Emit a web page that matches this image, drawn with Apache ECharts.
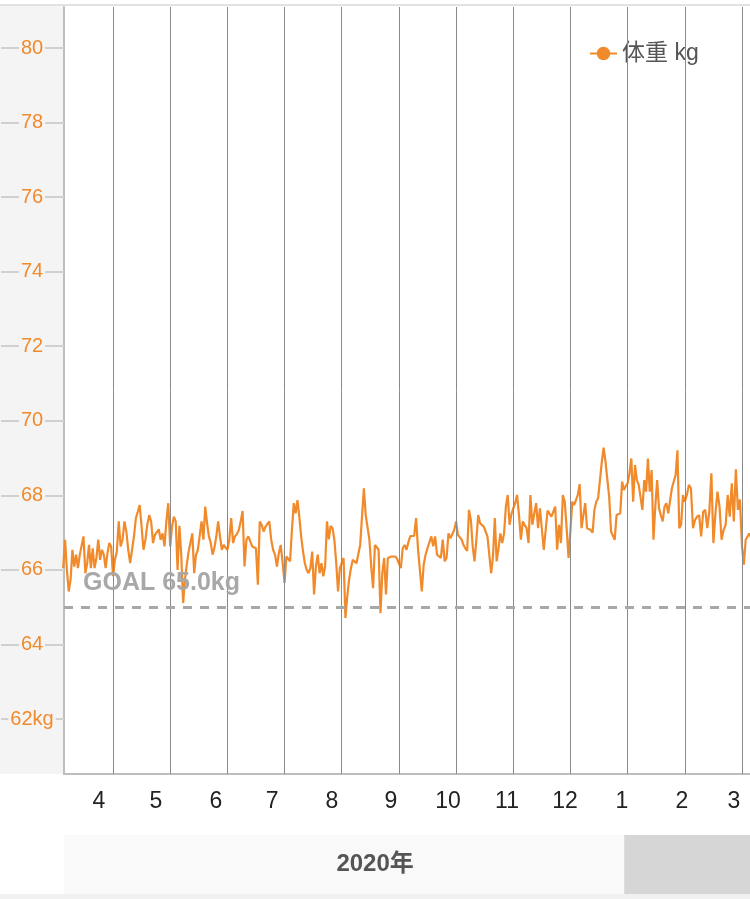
<!DOCTYPE html>
<html><head><meta charset="utf-8">
<script src="https://cdn.jsdelivr.net/npm/echarts@6/dist/echarts.min.js"></script>
<style>html,body{margin:0;padding:0;background:#fff}#c{width:750px;height:899px}</style>
</head><body><div id="c"></div>
<script>
// ---- data ----
const startDate = [2020, 3, 5]; // first daily reading (year, month, day)
const w2020_03 = [66.05,66.81,66.00,65.42,65.74,66.54,66.09,66.41,66.05,66.41,66.36,66.90,65.91,66.18,66.67,66.05,66.58,66.05,66.32,66.81,66.27,66.54,66.41,66.05,66.45,66.72,66.63];
const w2020_04 = [65.83,66.27,66.49,67.30,66.63,66.81,67.30,67.03,66.54,66.18,66.54,66.90,67.39,67.56,67.74,67.16,66.54,66.81,67.21,67.47,67.30,66.72,66.94,66.90,67.09,66.81,66.98,66.63,67.30,67.79];
const w2020_05 = [66.63,67.16,67.43,67.30,66.00,67.18,66.40,65.11,65.74,66.14,66.49,66.45,66.98,65.91,66.41,66.54,66.54,67.30,66.81,67.70,67.25,66.90,66.72,66.41,66.60,66.90,67.30,66.90,66.54,66.67,66.60];
const w2020_06 = [66.54,66.81,67.39,66.72,66.90,66.96,67.07,67.30,67.58,66.09,66.81,66.90,66.85,66.63,66.61,66.58,65.60,67.30,67.21,67.03,67.16,67.12,67.30,66.81,66.54,66.41,66.09,66.45,66.67,66.18];
const w2020_07 = [65.65,66.36,66.41,66.23,67.07,67.79,67.52,67.87,67.43,66.90,66.50,66.18,66.00,65.91,66.05,66.49,65.34,66.09,66.41,65.91,66.18,65.83,66.09,67.30,66.82,67.18,67.12,66.81,66.20,65.42,66.05];
const w2020_08 = [66.18,66.32,64.71,65.29,65.74,66.05,66.27,66.32,66.18,66.14,66.67,66.63,68.19,67.47,67.45,66.81,66.09,65.51,66.67,66.63,66.54,64.84,65.91,66.32,65.34,66.32,66.32,66.36,66.41,66.36,66.30];
const w2020_09 = [66.27,66.05,66.58,66.67,66.54,66.75,66.91,66.90,66.91,67.39,66.58,66.58,65.42,66.14,66.41,66.58,66.63,66.90,66.63,66.90,66.41,66.36,66.32,66.81,66.23,66.32,66.98,66.85,66.85,67.07];
const w2020_10 = [67.30,66.94,66.98,66.81,66.67,66.58,66.51,67.61,67.34,66.63,66.23,66.81,67.47,67.25,67.21,67.16,67.03,66.90,66.90,65.91,66.36,67.39,66.23,66.58,66.98,66.72,66.98,67.70,68.01,67.21,67.50];
const w2020_11 = [67.65,67.79,68.01,67.47,66.81,67.30,67.20,67.12,66.72,68.01,67.21,67.25,67.79,67.12,67.65,67.70,66.54,67.07,67.59,67.54,67.43,67.56,67.70,66.54,67.21,66.72,68.01,67.83,67.12,66.32];
const w2020_12 = [67.07,67.83,67.74,67.79,68.01,68.30,67.12,67.47,67.79,67.12,67.12,67.07,67.00,67.61,67.83,67.92,68.41,68.90,69.28,68.90,68.86,67.96,67.03,67.07,66.81,67.47,67.50,67.52,68.37,68.14,68.25];
const w2021_01 = [68.32,68.59,68.99,67.83,68.81,68.41,68.28,68.30,67.61,68.41,68.10,68.99,68.10,68.68,66.81,67.70,68.41,67.65,67.47,67.30,67.70,67.79,67.52,67.47,68.19,68.37,68.54,69.21,67.12,67.21,68.01];
const w2021_02 = [67.83,68.01,68.28,68.19,67.12,67.34,67.43,67.47,66.90,67.56,67.61,67.12,67.56,68.59,66.72,67.52,68.10,67.70,66.81,67.07,67.21,68.01,67.43,68.32,67.30,68.70,67.61,67.89];
const w2021_03 = [66.63,66.14,66.81,66.76,66.98,66.85,66.90,67.00];

const seriesName = '体重 kg';
const goalWeight = 65.0;
const goalText = 'GOAL 65.0kg';
const yTickValues = [62,64,66,68,70,72,74,76,78,80];
const monthLabels = ['4','5','6','7','8','9','10','11','12','1','2','3'];
const monthLabelPos = [0.755,1.752,2.801,3.781,4.830,5.862,6.859,7.890,8.905,9.901,10.95,11.86];
const monthStarts = [1,2,3,4,5,6,7,8,9,10,11,12]; // Apr 2020 .. Mar 2021, in months since Mar 2020
const yearLabels = ['2020年',''];
const yearBoundary = 9.94; // end of the 2020 band
const xMin = 0.143, xMax = 12.14;
const yMin = 60.525, yMax = 81.1;

// ---- build ----
const allWeights = [].concat(w2020_03,w2020_04,w2020_05,w2020_06,w2020_07,w2020_08,w2020_09,w2020_10,w2020_11,w2020_12,w2021_01,w2021_02,w2021_03);
const seriesData = [];
let t = Date.UTC(startDate[0], startDate[1]-1, startDate[2]);
allWeights.forEach(w => {
  const d = new Date(t);
  const y = d.getUTCFullYear(), m = d.getUTCMonth(), day = d.getUTCDate();
  const dim = new Date(Date.UTC(y, m+1, 0)).getUTCDate();
  const mi = (y-2020)*12 + (m-2);
  seriesData.push([mi + (day-1)/dim, w]);
  t += 86400000;
});

const ORANGE = '#f18a2b';
const FONT = "'Liberation Sans', Arial, 'Noto Sans CJK JP', sans-serif";

const chart = echarts.init(document.getElementById('c'), null, {renderer:'canvas'});
chart.setOption({
  animation: false,
  backgroundColor: '#fff',
  textStyle: {fontFamily: FONT},
  graphic: [
    {type:'rect', left:0, top:4, z:-10, shape:{width:750, height:2}, style:{fill:'#e2e2e2'}},
    {type:'rect', left:0, top:6, z:-10, shape:{width:64, height:768}, style:{fill:'#f4f4f4'}},
    {type:'rect', left:0, top:894, z:-10, shape:{width:750, height:5}, style:{fill:'#f0f0f0'}}
  ],
  legend: {
    data: [seriesName], left: 589, top: 42, padding: 0,
    itemWidth: 27, itemHeight: 17, itemGap: 10,
    textStyle: {fontSize: 23, color: '#555', fontFamily: FONT}
  },
  grid: [
    {left: 64, right: 0, top: 7, bottom: 125},
    {left: 64, right: 0, top: 835, height: 59}
  ],
  xAxis: [
    {
      type: 'value', gridIndex: 0, min: xMin, max: xMax,
      axisLine: {show: true, lineStyle: {color: '#bdbdbd', width: 2}},
      axisTick: {show: false},
      splitLine: {show: false},
      axisLabel: {
        customValues: monthLabelPos, margin: 16, fontSize: 23, color: '#222', fontFamily: FONT,
        formatter: v => { let b = 0, bd = 1e9; monthLabelPos.forEach((p,i)=>{ const dd = Math.abs(p-v); if (dd<bd){bd=dd;b=i;} }); return monthLabels[b]; }
      }
    },
    {type: 'value', gridIndex: 1, min: xMin, max: xMax, show: false}
  ],
  yAxis: [
    {
      type: 'value', gridIndex: 0, min: yMin, max: yMax,
      axisLine: {show: true, lineStyle: {color: '#bdbdbd', width: 2}},
      axisTick: {show: true, customValues: yTickValues, length: 63, lineStyle: {color: '#d0d0d0', width: 2}},
      splitLine: {show: false},
      axisLabel: {
        customValues: yTickValues, align: 'center', margin: 32, fontSize: 20, color: ORANGE,
        backgroundColor: '#f4f4f4', padding: [0, 2], fontFamily: FONT,
        formatter: v => v === yTickValues[0] ? v + 'kg' : String(v)
      }
    },
    {type: 'value', gridIndex: 1, min: 0, max: 1, show: false}
  ],
  series: [
    {
      type: 'line', xAxisIndex: 0, yAxisIndex: 0, data: [], z: 1, silent: true,
      markLine: {
        silent: true, symbol: 'none', animation: false,
        label: {show: false},
        lineStyle: {color: '#8a8a8a', width: 1, type: 'solid'},
        emphasis: {disabled: true},
        data: monthStarts.map(m => ({xAxis: m}))
      }
    },
    {
      name: seriesName, type: 'line', xAxisIndex: 0, yAxisIndex: 0, z: 3,
      data: seriesData, showSymbol: false, symbol: 'circle', symbolSize: 8,
      lineStyle: {color: ORANGE, width: 2.2}, itemStyle: {color: ORANGE},
      emphasis: {disabled: true}, silent: true, clip: true,
      markLine: {
        silent: true, symbol: 'none', animation: false,
        lineStyle: {color: '#a8a8a8', width: 3, type: [9, 8]},
        label: {show: true, position: 'insideStartTop', formatter: goalText, color: '#a8a8a8',
                fontSize: 25, fontWeight: 'bold', fontFamily: FONT, distance: [19, 12]},
        emphasis: {disabled: true},
        data: [{yAxis: goalWeight}]
      }
    },
    {
      type: 'line', xAxisIndex: 1, yAxisIndex: 1, data: [], silent: true,
      markArea: {
        silent: true,
        emphasis: {disabled: true},
        label: {show: true, position: 'inside', fontSize: 24, fontWeight: 'bold', color: '#555', fontFamily: FONT},
        data: [
          [{xAxis: xMin, name: yearLabels[0], itemStyle: {color: '#f9f9f9'}, label: {offset: [31, 0]}}, {xAxis: yearBoundary}],
          [{xAxis: yearBoundary, name: yearLabels[1], itemStyle: {color: '#d6d6d6'}, label: {show: false}}, {xAxis: xMax}]
        ]
      }
    }
  ]
});
</script></body></html>
